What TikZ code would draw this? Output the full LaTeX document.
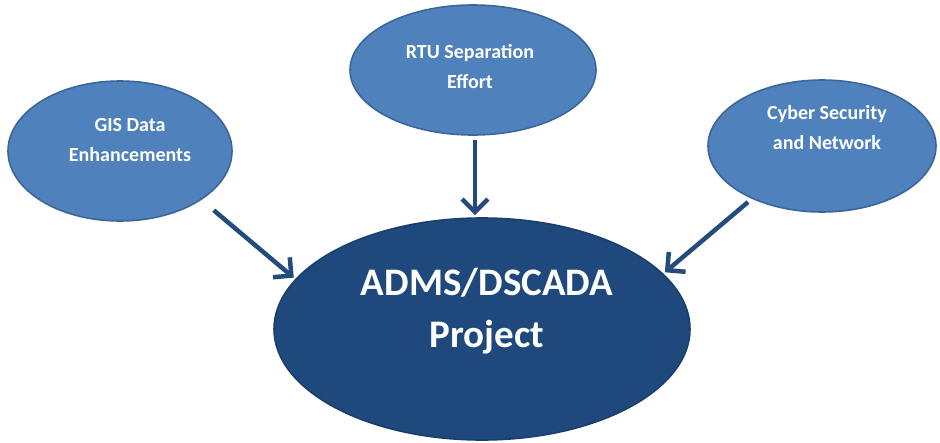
\documentclass[tikz,border=0pt]{standalone}
\usepackage{fontspec}
\setmainfont{Carlito}
\usetikzlibrary{shapes.geometric,arrows.meta}
\definecolor{smallfill}{HTML}{4F81BD}
\definecolor{smalledge}{HTML}{3B6699}
\definecolor{mainfill}{HTML}{1F497D}
\definecolor{mainedge}{HTML}{1A3F6C}
\definecolor{arrowcol}{HTML}{234C7C}
\tikzset{
  bubble/.style={ellipse, draw=smalledge, fill=smallfill, line width=1.6pt, inner sep=0pt},
  hub/.style={ellipse, draw=mainedge, fill=mainfill, line width=1.6pt, inner sep=0pt},
  smalltext/.style={text=white, font=\fontsize{20}{30}\selectfont\bfseries, align=center},
  bigtext/.style={text=white, font=\fontsize{39}{52}\selectfont\bfseries, align=center},
  feed/.style={draw=arrowcol, line width=4.5pt, -{Straight Barb[length=13pt,width=26pt,line width=4.5pt]}}
}
\begin{document}
\begin{tikzpicture}[x=1pt,y=-1pt]
  \useasboundingbox (0,0) rectangle (940,442);
  % source bubbles
  \node[bubble, minimum width=224pt, minimum height=140pt] (gis) at (120,151) {};
  \node[bubble, minimum width=246pt, minimum height=130pt] (rtu) at (473,70) {};
  \node[bubble, minimum width=228pt, minimum height=132pt] (cyber) at (822,146) {};
  % central project
  \node[hub, minimum width=416pt, minimum height=222pt] (hub) at (482,329) {};
  % labels
  \node[smalltext] (gislbl) at (130,140) {GIS Data\\Enhancements};
  \node[smalltext] (rtulbl) at (470,67) {RTU Separation\\Effort};
  \node[smalltext] (cyberlbl) at (827,128) {Cyber Security\\and Network};
  \node[bigtext] (hublbl) at (487,311) {ADMS/DSCADA\\Project};
  % feeding arrows
  \draw[feed, shorten <=16pt, shorten >=2pt] (gis.-31) -- (hub.165);
  \coordinate (rtufoot) at ([xshift=2pt,yshift=-4pt]rtu.south);
  \draw[feed, shorten >=2pt] (rtufoot) -- (rtufoot |- hub.north);
  \draw[feed, shorten <=5pt, shorten >=2pt] (cyber.-143) -- (hub.17);
\end{tikzpicture}
\end{document}
